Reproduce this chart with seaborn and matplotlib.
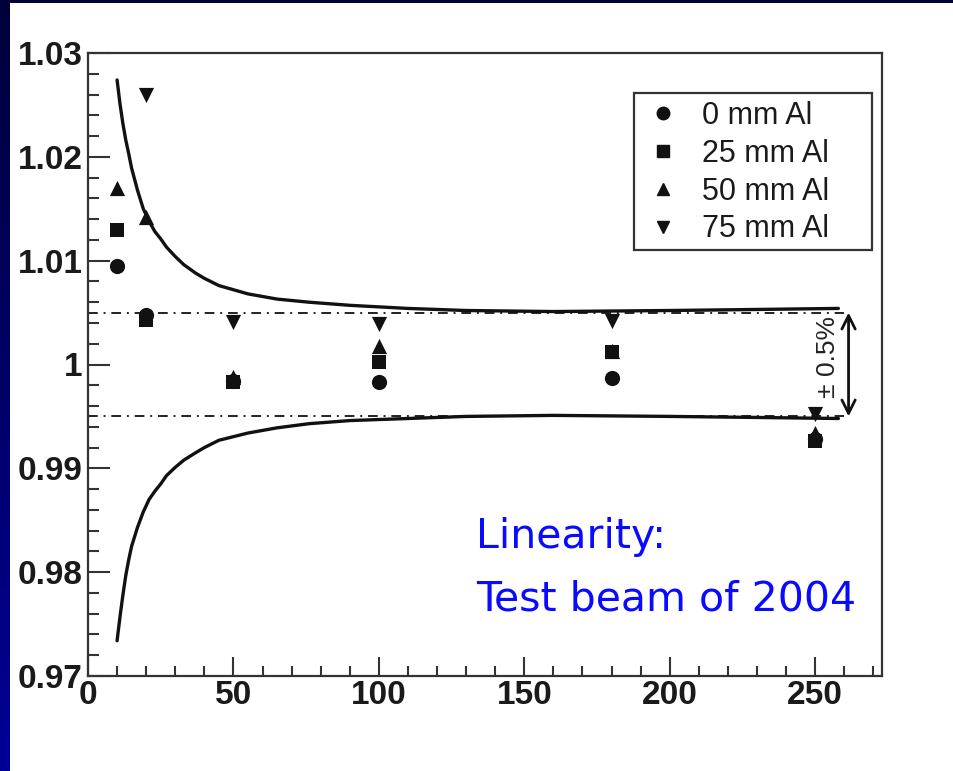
import numpy as np
import pandas as pd
import matplotlib
matplotlib.use("Agg")
import matplotlib.pyplot as plt
from matplotlib.ticker import FixedLocator, MultipleLocator
from matplotlib.colors import LinearSegmentedColormap
from matplotlib.lines import Line2D
from matplotlib.patches import Rectangle
import seaborn as sns

# ---------------- data ----------------
beam_x = [10, 20, 50, 100, 180, 250]
al0_y = [1.0095, 1.0048, 0.9984, 0.9983, 0.9987, 0.9928]
al25_y = [1.0130, 1.0043, 0.9983, 1.0002, 1.0012, 0.9926]
al50_y = [1.0170, 1.0142, 0.9988, 1.0018, 1.0013, 0.9934]
al75_y = [np.nan, 1.0260, 1.0041, 1.0039, 1.0042, 0.9952]
series_labels = ["0 mm Al", "25 mm Al", "50 mm Al", "75 mm Al"]

curve_x = [10, 11, 12, 13, 14, 15, 17, 19, 21, 23, 25, 27, 30, 33, 37, 40, 45, 55, 65, 76,
           90, 110, 130, 160, 200, 230, 258]
upper_y = [1.0274, 1.0251, 1.0232, 1.0216, 1.0203, 1.0189, 1.0168, 1.0150, 1.0138, 1.0128,
           1.0121, 1.0113, 1.0104, 1.0096, 1.0088, 1.0083, 1.0076, 1.0068, 1.0063, 1.0060,
           1.0057, 1.0054, 1.0052, 1.0051, 1.0052, 1.0053, 1.0054]
lower_y = [0.9734, 0.9757, 0.9778, 0.9797, 0.9812, 0.9825, 0.9843, 0.9858, 0.9870, 0.9878,
           0.9885, 0.9893, 0.9901, 0.9908, 0.9915, 0.9920, 0.9927, 0.9934, 0.9939, 0.9943,
           0.9946, 0.9948, 0.9950, 0.9951, 0.9950, 0.9949, 0.9948]

band_levels = [1.005, 0.995]
y_ticks = [0.97, 0.98, 0.99, 1.00, 1.01, 1.02, 1.03]
y_tick_labels = ["0.97", "0.98", "0.99", "1", "1.01", "1.02", "1.03"]
x_ticks = [0, 50, 100, 150, 200, 250]
x_tick_labels = ["0", "50", "100", "150", "200", "250"]

# ---------------- build frame ----------------
rows = []
for lab, ys in zip(series_labels, [al0_y, al25_y, al50_y, al75_y]):
    for x, y in zip(beam_x, ys):
        if not np.isnan(y):
            rows.append({"energy": x, "ratio": y, "series": lab})
df = pd.DataFrame(rows)

sns.set_theme(style="white")
plt.rcParams["font.family"] = ["Liberation Sans", "DejaVu Sans"]

fig = plt.figure(figsize=(9.54, 7.71), dpi=100)
fig.patch.set_facecolor("white")

# left navy gradient strip and top band
strip = fig.add_axes([0, 0, 10 / 954, 1])
grad = np.linspace(0, 1, 256).reshape(-1, 1)
cmap = LinearSegmentedColormap.from_list("navy", ["#00003a", "#000096"])
strip.imshow(grad, aspect="auto", cmap=cmap, extent=[0, 1, 0, 1], origin="upper")
strip.axis("off")
top = fig.add_axes([0, 1 - 3 / 771, 1, 3 / 771])
top.set_facecolor("#00003a")
top.set_xticks([]); top.set_yticks([])
for s in top.spines.values():
    s.set_visible(False)

ax = fig.add_axes([88 / 954, 1 - 676 / 771, (882 - 88) / 954, (676 - 53) / 771])
ax.set_facecolor("white")

markers = {"0 mm Al": "o", "25 mm Al": "s", "50 mm Al": "^", "75 mm Al": "v"}
sizes_pt = {"0 mm Al": 120, "25 mm Al": 105, "50 mm Al": 120, "75 mm Al": 120}
for lab in series_labels:
    sub = df[df["series"] == lab]
    sns.scatterplot(data=sub, x="energy", y="ratio", marker=markers[lab], color="#111111",
                    s=sizes_pt[lab], edgecolor="#111111", linewidth=0, ax=ax, legend=False, zorder=4)

sns.lineplot(x=curve_x, y=upper_y, color="#111111", linewidth=2.4, ax=ax, sort=False, zorder=3)
sns.lineplot(x=curve_x, y=lower_y, color="#111111", linewidth=2.4, ax=ax, sort=False, zorder=3)

for lv in band_levels:
    ax.plot([0, 260], [lv, lv], color="#222222", linewidth=1.4, linestyle=(0, (5, 3, 1, 3)), zorder=2)

ax.annotate("", xy=(261.5, band_levels[0]), xytext=(261.5, band_levels[1]),
            arrowprops=dict(arrowstyle="<->", color="#111111", lw=2, mutation_scale=24,
                            shrinkA=0, shrinkB=0))
ax.text(254.3, 1.0007, "± 0.5%", rotation=90, ha="center", va="center", fontsize=19,
        color="#222222")

ax.text(133.5, 0.98232, "Linearity:", color="#0a0aff", fontsize=29.5, ha="left", va="baseline",
        family=["DejaVu Sans"])
ax.text(133.5, 0.97633, "Test beam of 2004", color="#0a0aff", fontsize=29.5, ha="left", va="baseline",
        family=["DejaVu Sans"])

ax.set_xlim(0, 273)
ax.set_ylim(0.97, 1.03)
ax.xaxis.set_major_locator(FixedLocator(x_ticks))
ax.set_xticklabels(x_tick_labels)
ax.xaxis.set_minor_locator(MultipleLocator(10))
ax.yaxis.set_major_locator(FixedLocator(y_ticks))
ax.set_yticklabels(y_tick_labels)
ax.yaxis.set_minor_locator(MultipleLocator(0.002))
ax.set_xlabel("")
ax.set_ylabel("")

for lbl in ax.get_xticklabels() + ax.get_yticklabels():
    lbl.set_fontfamily(["Liberation Sans Narrow", "Liberation Sans"])
    lbl.set_fontweight("bold")
    lbl.set_fontsize(24)
    lbl.set_color("#1a1a1a")

ax.tick_params(axis="both", which="both", direction="in", color="#333333", width=1.5)
ax.tick_params(axis="y", which="major", length=16, pad=4, left=True)
ax.tick_params(axis="y", which="minor", length=8, left=True)
ax.tick_params(axis="x", which="major", length=14, pad=3, bottom=True)
ax.tick_params(axis="x", which="minor", length=7, bottom=True)

for s in ax.spines.values():
    s.set_visible(True)
    s.set_color("#333333")
    s.set_linewidth(1.6)

# legend box (drawn separately so its padding matches the reference)
box = Rectangle((0.6877, 0.6838), 0.9874 - 0.6877, 0.9358 - 0.6838, transform=ax.transAxes,
                facecolor="white", edgecolor="#333333", linewidth=1.6, zorder=5)
ax.add_patch(box)
handles = [Line2D([], [], marker=markers[l], color="#111111", linestyle="none", markersize=9)
           for l in series_labels]
leg = ax.legend(handles, series_labels, loc="upper left", bbox_to_anchor=(0.7053, 0.9235),
                borderaxespad=0, frameon=False, fontsize=22,
                handlelength=1.0, handletextpad=0.78, labelspacing=0.26, borderpad=0.0,
                handleheight=0.7)
leg.set_zorder(6)
for t in leg.get_texts():
    t.set_color("#1a1a1a")

fig.savefig("out.png", dpi=100, facecolor="white")
